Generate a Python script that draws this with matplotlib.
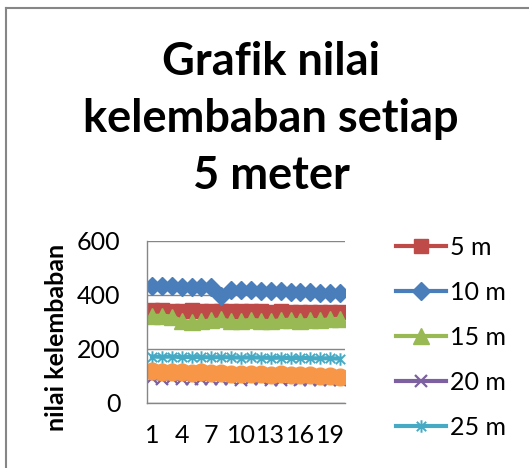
import matplotlib
matplotlib.use("Agg")
import matplotlib.pyplot as plt
from matplotlib.lines import Line2D
from matplotlib.path import Path

plt.rcParams['font.family'] = ['Lato', 'DejaVu Sans']

categories = list(range(1, 21))
xtick_labels = [1, 4, 7, 10, 13, 16, 19]
yticks = [0, 200, 400, 600]

s5 = [344, 343, 342, 342, 344, 341, 342, 340, 341, 339, 340, 339, 338, 339, 338, 337, 338, 337, 337, 336]
s10 = [434, 433, 432, 431, 430, 429, 428, 396, 420, 418, 417, 416, 415, 414, 412, 411, 410, 409, 408, 407]
s15 = [322, 324, 320, 305, 300, 302, 306, 310, 302, 304, 308, 305, 303, 306, 309, 305, 308, 306, 310, 312]
s20 = [92, 90, 91, 89, 90, 88, 89, 90, 88, 87, 89, 88, 87, 86, 88, 87, 86, 85, 86, 85]
s25 = [172, 171, 172, 170, 171, 170, 169, 170, 169, 168, 169, 168, 167, 168, 166, 167, 166, 165, 166, 164]
s30 = [118, 116, 115, 114, 112, 113, 110, 111, 109, 108, 109, 106, 105, 106, 103, 102, 103, 100, 99, 98]
labels = ['5 m', '10 m', '15 m', '20 m', '25 m', '30 m']

W, H = 529, 468
fig = plt.figure(figsize=(W / 100, H / 100), dpi=100)
ax = fig.add_axes([147 / W, (H - 403) / H, 198 / W, 162 / H])

star = Path([(0, -1), (0, 1), (-0.75, -0.75), (0.75, 0.75), (-0.75, 0.75), (0.75, -0.75)],
            [Path.MOVETO, Path.LINETO, Path.MOVETO, Path.LINETO, Path.MOVETO, Path.LINETO])

styles = [
    dict(color='#BE4B48', marker='s', ms=10),
    dict(color='#4A7EBB', marker='D', ms=9.5),
    dict(color='#98B954', marker='^', ms=12),
    dict(color='#7D60A0', marker='x', ms=8, mew=1.6),
    dict(color='#46AAC5', marker=star, ms=9, mew=1.4),
    dict(color='#F79646', marker='o', ms=12),
]
series = [s5, s10, s15, s20, s25, s30]
handles = []
for vals, st, lab in zip(series, styles, labels):
    h, = ax.plot(categories, vals, lw=3, label=lab, **st)
    handles.append(h)

ax.set_xlim(0.5, 20.5)
ax.set_ylim(0, 600)
ax.set_yticks(yticks)
ax.set_xticks(xtick_labels)
ax.set_xticklabels([str(v) for v in xtick_labels])
ax.yaxis.grid(True, color='#868686', lw=1)
ax.set_axisbelow(True)
for sp in ['top', 'right']:
    ax.spines[sp].set_visible(False)
for sp in ['left', 'bottom']:
    ax.spines[sp].set_color('#868686')
    ax.spines[sp].set_linewidth(1)
ax.tick_params(axis='y', length=0, pad=19, labelsize=18)
ax.tick_params(axis='x', length=0, pad=15, labelsize=18)

fig.text(57 / W, 1 - 337 / H, 'nilai kelembaban', rotation=90, fontsize=18,
         fontweight='bold', ha='center', va='center')

for txt, yc in [('Grafik nilai', 62), ('kelembaban setiap', 119), ('5 meter', 176)]:
    fig.text(271 / W, 1 - yc / H, txt, fontsize=32.5, fontweight='bold', ha='center', va='center')

fig.add_artist(Line2D([6 / W, 6 / W], [0, 1 - 8 / H], color='#868686', lw=1.5))
fig.add_artist(Line2D([6 / W, 1], [1 - 8 / H, 1 - 8 / H], color='#868686', lw=1.5))

fig.legend(handles[:5], labels[:5], loc='upper left', bbox_to_anchor=(386 / W, 1 - 226 / H),
           frameon=False, fontsize=18, handlelength=2.0, labelspacing=0.88,
           handletextpad=0.15, borderaxespad=0)

fig.savefig('out.png', dpi=100)
